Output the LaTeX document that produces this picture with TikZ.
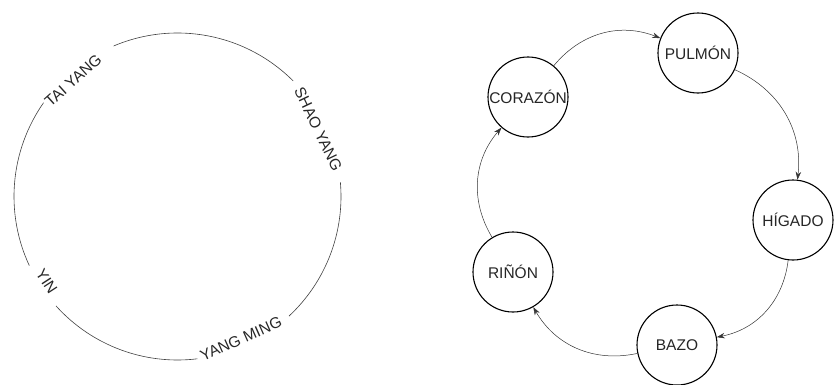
\documentclass[tikz,border=0pt]{standalone}
\usepackage{fontspec}
\setmainfont{Liberation Sans}
\usetikzlibrary{arrows.meta}
\begin{document}
\begin{tikzpicture}[x=1pt,y=1pt,
  phase/.style={font=\fontsize{15.5}{18}\selectfont,inner sep=0pt,text=black!85},
  organ/.style={circle,draw,line width=1.1pt,minimum size=80pt,inner sep=0pt,
    font=\fontsize{15.5}{18}\selectfont,text=black!85},
  flow/.style={-{Stealth[length=8pt,width=5.5pt]},line width=0.5pt,draw=black!80,bend left=36}]
  \useasboundingbox (0,0) rectangle (835,384);
  % circle of the channels, with gaps for the names
  \coordinate (ciclo) at (177.5,187.5);
  \draw[line width=0.6pt,black!75] ([shift={(45:163.5)}]ciclo) arc[start angle=45,end angle=113,radius=163.5pt];
  \draw[line width=0.6pt,black!75] ([shift={(145:163.5)}]ciclo) arc[start angle=145,end angle=205,radius=163.5pt];
  \draw[line width=0.6pt,black!75] ([shift={(222:163.5)}]ciclo) arc[start angle=222,end angle=277,radius=163.5pt];
  \draw[line width=0.6pt,black!75] ([shift={(313:163.5)}]ciclo) arc[start angle=313,end angle=365,radius=163.5pt];
  \node[phase,rotate=42] (taiyang) at ([shift={(132:156)}]ciclo) {TAI YANG};
  \node[phase,rotate=-64.5] (shaoyang) at ([shift={(25.5:156)}]ciclo) {SHAO YANG};
  \node[phase,rotate=24] (yangming) at ([shift={(-66:156)}]ciclo) {YANG MING};
  \node[phase,rotate=-57] (yin) at ([shift={(213:156)}]ciclo) {YIN};
  % organs
  \node[organ] (pulmon) at (698,331) {PULMÓN};
  \node[organ] (corazon) at (528,287) {CORAZÓN};
  \node[organ] (higado) at (793,164) {HÍGADO};
  \node[organ] (rinon) at (513,112) {RIÑÓN};
  \node[organ] (bazo) at (677,39) {BAZO};
  \draw[flow] (corazon) to (pulmon);
  \draw[flow] (pulmon) to (higado);
  \draw[flow] (higado) to (bazo);
  \draw[flow] (bazo) to (rinon);
  \draw[flow] (rinon) to (corazon);
\end{tikzpicture}
\end{document}
